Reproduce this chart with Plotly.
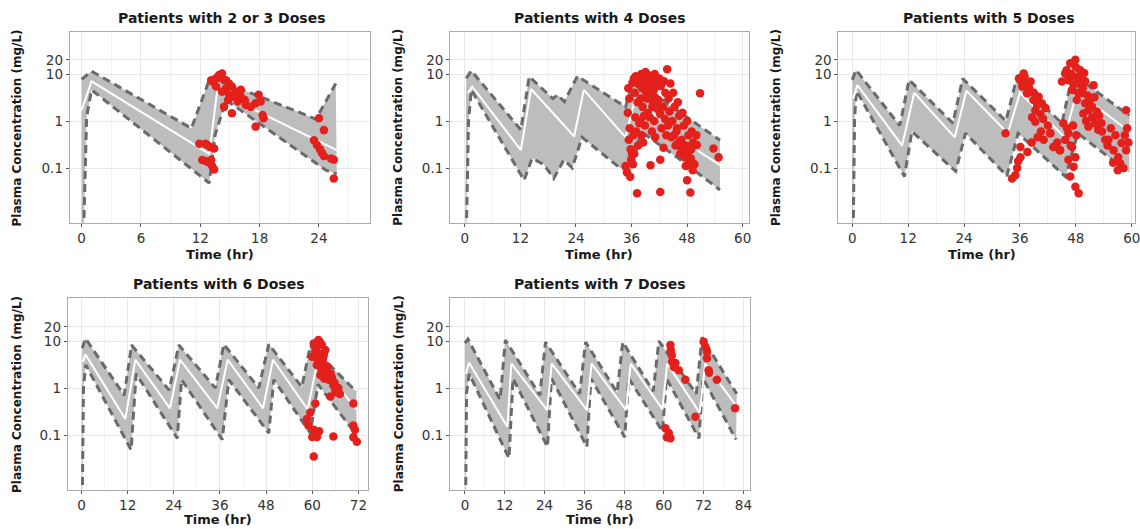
import plotly.graph_objects as go

# ---------------- data ----------------
panel_titles = ["Patients with 2 or 3 Doses", "Patients with 4 Doses", "Patients with 5 Doses",
                "Patients with 6 Doses", "Patients with 7 Doses"]
x_ticks = [[0, 6, 12, 18, 24], [0, 12, 24, 36, 48, 60], [0, 12, 24, 36, 48, 60],
           [0, 12, 24, 36, 48, 60, 72], [0, 12, 24, 36, 48, 60, 72, 84]]
y_ticks = [0.1, 1, 10, 20]
y_tick_text = ["0.1", "1", "10", "20"]

# Panel 1 : 2 or 3 doses
p1_up_t = [0.0, 1.0, 11.1, 12.8, 13.8, 23.7, 25.7]
p1_up_c = [7.7, 11.5, 0.7, 6.5, 7.5, 1.1, 6.3]
p1_md_t = [0.0, 1.0, 12.9, 13.7, 25.8]
p1_md_c = [1.7, 7.0, 0.2, 4.2, 0.24]
p1_lo_t = [0.0, 0.5, 1.0, 12.9, 13.5, 14.6, 24.7, 25.8]
p1_lo_c = [0.0001, 1.2, 4.6, 0.048, 0.5, 2.8, 0.09, 0.075]
p1_obs_t = [11.9, 12.5, 12.7, 13.0, 13.4, 12.2, 12.6, 13.1, 12.9, 13.2, 13.4,
            13.1, 13.3, 13.6, 13.9, 14.2, 14.0, 14.4, 14.6, 14.9, 15.2,
            14.6, 14.2, 15.6, 16.1, 14.9, 15.4, 16.1, 16.6, 17.1, 17.6,
            17.9, 18.1, 18.3, 18.4, 17.6, 15.2, 14.4, 13.6, 15.8, 16.5, 14.8,
            24.0, 24.5, 23.5, 23.8, 24.3, 24.5, 25.2, 25.5, 25.5, 24.1]
p1_obs_c = [0.33, 0.33, 0.31, 0.28, 0.26, 0.148, 0.14, 0.148, 0.13, 0.11, 0.093,
            7.4, 6.8, 8.1, 9.5, 10.3, 8.5, 7.5, 7.4, 6.3, 5.4,
            5.0, 4.2, 4.2, 4.6, 3.6, 3.3, 3.3, 2.2, 2.0, 2.4,
            3.6, 2.6, 1.34, 1.14, 0.76, 1.46, 2.0, 5.4, 2.6, 2.8, 2.8,
            1.14, 0.64, 0.39, 0.31, 0.21, 0.18, 0.16, 0.15, 0.06, 0.25]

# Panel 2 : 4 doses
p2_up_t = [0.3, 1.4, 12.1, 13.9, 19.0, 20.0, 21.5, 24.3, 34.7, 36.5, 45.8, 55.1]
p2_up_c = [8.1, 11.7, 0.65, 8.8, 3.0, 3.6, 2.6, 9.0, 2.0, 8.0, 1.7, 0.39]
p2_md_t = [0.6, 1.6, 12.1, 14.3, 23.6, 25.7, 34.7, 36.8, 50.1, 55.1]
p2_md_c = [3.9, 5.4, 0.24, 4.8, 0.47, 4.6, 0.45, 3.0, 0.24, 0.115]
p2_lo_t = [0.0, 0.8, 1.4, 12.8, 14.5, 17.0, 19.2, 21.4, 23.2, 25.3, 33.5, 36.0, 38.0, 45.8, 55.1]
p2_lo_c = [0.0001, 1.0, 4.6, 0.055, 0.16, 0.12, 0.06, 0.15, 0.1, 0.45, 0.1, 0.09, 0.6, 0.17, 0.034]
p2_obs_t = [34.7, 35.0, 35.7, 35.3, 35.5, 35.2, 35.6, 35.4, 35.8, 35.9,
            36.9, 37.1, 36.7, 37.3, 36.8, 37.0, 37.4, 36.6, 37.2,
            38.1, 37.8, 38.3, 38.0, 38.4, 37.9, 38.2, 38.5,
            39.0, 39.3, 38.8, 39.2, 39.5, 38.9,
            40.0, 40.3, 39.8, 40.2, 40.5, 39.9, 40.4, 40.1,
            41.0, 41.3, 40.8, 41.2, 41.5, 40.9, 41.1,
            42.0, 42.3, 41.8, 42.2, 42.5, 42.2, 42.2,
            43.0, 43.3, 42.8, 43.2, 43.5, 42.9,
            43.7, 44.4, 44.0, 44.2, 43.9,
            45.0, 45.3, 44.8, 45.2, 45.5,
            46.0, 46.3, 45.8, 46.2, 46.5,
            47.0, 47.3, 46.8, 47.2, 47.7,
            48.0, 48.3, 47.8, 48.2, 48.5, 48.0, 48.7,
            49.0, 49.3, 48.8, 49.2,
            50.1, 50.0, 50.8, 53.7, 54.8,
            36.2, 36.5, 37.6, 38.6, 39.6, 40.7, 41.6, 42.6, 39.4, 40.6, 41.7,
            38.7, 37.7, 36.4, 36.3, 36.1, 44.6, 45.7, 46.7, 47.5, 48.9, 49.6]
p2_obs_c = [0.11, 0.08, 0.065, 5.0, 3.0, 1.5, 0.7, 0.4, 0.25, 0.15,
            9.0, 7.0, 4.0, 2.5, 1.2, 0.6, 0.3, 0.2, 0.029,
            10.0, 8.0, 5.0, 3.0, 2.0, 1.0, 0.5, 0.35,
            11.0, 8.5, 6.0, 4.0, 1.5, 0.8,
            9.0, 7.0, 5.0, 3.5, 2.0, 1.2, 0.6, 0.115,
            10.0, 6.0, 4.5, 3.0, 2.2, 1.0, 0.45,
            8.0, 5.5, 2.8, 1.4, 0.7, 0.15, 0.031,
            7.0, 4.0, 2.0, 1.1, 0.5, 0.27,
            12.6, 6.3, 3.0, 1.6, 0.8,
            4.0, 2.0, 1.0, 0.5, 0.3,
            2.5, 1.3, 0.7, 0.35, 0.2,
            1.5, 0.8, 0.4, 0.25, 0.11,
            1.0, 0.5, 0.3, 0.2, 0.13, 0.055, 0.03,
            0.6, 0.35, 0.16, 0.09,
            0.31, 0.5, 3.9, 0.26, 0.17,
            6.5, 8.0, 6.0, 7.0, 9.5, 8.0, 7.5, 6.5, 3.0, 2.6, 1.8,
            1.3, 0.9, 0.5, 0.12, 0.2, 0.45, 0.6, 0.28, 0.17, 0.25, 0.12]

# Panel 3 : 5 doses
p3_up_t = [0.0, 0.8, 10.2, 12.2, 21.6, 23.7, 33.0, 35.2, 45.0, 47.3, 59.5]
p3_up_c = [7.5, 12.2, 0.8, 7.5, 0.9, 8.0, 1.0, 7.5, 0.9, 10.0, 1.3]
p3_md_t = [0.2, 1.1, 10.7, 13.3, 22.0, 24.5, 33.4, 36.0, 45.6, 48.2, 59.5]
p3_md_c = [3.0, 5.8, 0.3, 4.0, 0.45, 4.4, 0.55, 4.0, 0.45, 4.2, 0.6]
p3_lo_t = [0.0, 0.5, 0.9, 11.2, 12.8, 22.2, 24.3, 33.2, 35.6, 45.8, 48.4, 59.5]
p3_lo_c = [0.0001, 1.2, 4.4, 0.066, 0.6, 0.085, 0.55, 0.068, 0.55, 0.065, 0.55, 0.078]
p3_obs_t = [32.9, 35.8, 37.0, 38.3, 36.5, 37.5, 38.9, 40.0, 40.7, 39.3, 38.6, 40.4, 41.5, 41.1,
            39.3, 36.1, 36.1, 35.4, 35.0, 34.3, 36.8, 37.9,
            36.3, 37.3, 38.0, 39.0, 39.7, 41.0, 42.0, 42.5, 43.2, 44.6, 40.5, 39.8, 38.5, 37.6,
            35.6, 44.0,
            47.9, 46.8, 45.7, 45.0, 46.4, 47.9, 48.6, 47.2, 49.3, 48.2, 50.0, 50.7, 49.6, 51.5,
            52.1, 52.8, 50.7, 48.9, 51.8, 46.4, 45.7, 47.2, 47.9, 47.5, 46.8, 47.9, 48.6, 43.2,
            42.5, 44.6, 46.4, 55.0, 56.1, 57.1, 57.8, 58.5, 58.8, 57.5, 58.2, 58.8, 53.6, 54.3,
            46.0, 47.0, 48.0, 49.0, 50.0, 49.5, 48.5, 50.5, 51.0, 51.5, 52.5, 53.0, 52.0, 47.5,
            46.5, 49.8, 50.2, 53.5, 55.5, 56.5, 54.8, 56.0, 57.0, 59.0, 59.3, 45.3, 46.1, 46.9,
            48.1, 47.4]
p3_obs_c = [0.55, 8.1, 8.8, 6.9, 5.4, 3.9, 2.8, 3.3, 2.4, 1.7, 1.2, 1.4, 1.9, 0.4,
            0.97, 0.28, 0.17, 0.1, 0.07, 0.06, 10.3, 4.8,
            7.0, 6.0, 5.0, 4.0, 2.2, 1.1, 0.8, 0.55, 0.28, 0.24, 0.6, 0.45, 0.35, 0.22,
            0.14, 0.35,
            20.0, 17.0, 10.3, 6.9, 7.4, 8.8, 6.3, 4.6, 3.9, 2.8, 2.4, 1.7, 1.45, 1.2,
            0.9, 0.65, 0.76, 12.2, 5.8, 0.55, 0.4, 0.28, 0.17, 0.107, 0.066, 0.04, 0.029, 0.28,
            0.55, 0.24, 0.15, 0.4, 0.24, 0.17, 0.34, 0.5, 1.7, 0.126, 0.1, 0.24, 0.6, 0.4,
            12.0, 10.0, 14.0, 9.0, 7.0, 5.0, 4.0, 3.5, 2.8, 2.0, 1.6, 1.3, 3.2, 6.0,
            9.0, 10.5, 1.0, 0.9, 0.7, 0.5, 0.3, 0.13, 0.09, 0.7, 0.35, 0.9, 0.7, 0.3,
            0.5, 0.8]

# Panel 4 : 6 doses
p4_up_t = [0.2, 1.0, 11.1, 13.0, 22.8, 25.3, 34.8, 37.0, 46.1, 48.7, 57.3, 59.5, 71.5]
p4_up_c = [7.0, 11.4, 0.7, 8.2, 0.9, 8.2, 1.0, 8.5, 1.0, 8.5, 1.05, 8.0, 0.83]
p4_md_t = [0.4, 1.0, 11.4, 14.0, 23.0, 25.6, 35.3, 38.0, 47.2, 49.8, 58.8, 61.4, 71.5]
p4_md_c = [3.6, 5.2, 0.22, 4.0, 0.37, 4.0, 0.37, 4.0, 0.37, 4.0, 0.35, 3.8, 0.35]
p4_lo_t = [0.0, 0.5, 1.1, 12.9, 14.2, 24.9, 26.0, 36.6, 38.3, 48.7, 50.0, 59.5, 61.5, 71.5]
p4_lo_c = [0.0001, 1.0, 3.1, 0.048, 2.0, 0.085, 1.5, 0.08, 1.5, 0.11, 1.5, 0.11, 1.2, 0.1]
p4_obs_t = [60.4, 61.2, 60.8, 61.6, 60.0, 61.5, 62.4, 61.2, 62.3, 63.8, 65.1, 64.3, 65.5, 66.0,
            64.7, 63.4, 62.5, 61.6, 60.8, 58.6, 59.0, 60.4, 61.2, 60.0, 60.4, 65.5, 70.7, 70.7,
            71.1, 70.7, 71.6, 66.4,
            62.0, 63.0, 62.8, 63.5, 64.0, 64.8, 65.8, 66.8, 67.2, 61.0, 62.1, 63.1, 59.5, 61.8]
p4_obs_c = [8.9, 7.6, 5.9, 5.5, 4.6, 4.0, 3.7, 3.1, 2.6, 2.2, 1.7, 1.5, 1.15, 0.9,
            0.66, 6.4, 8.3, 10.5, 0.47, 0.22, 0.16, 0.13, 0.091, 0.091, 0.035, 0.093, 0.47, 0.16,
            0.13, 0.09, 0.072, 0.8,
            9.5, 5.0, 4.2, 3.0, 2.8, 2.0, 1.3, 1.0, 0.75, 6.8, 1.9, 1.6, 0.3, 0.12]

# Panel 5 : 7 doses
p5_up_t = [0.0, 0.9, 10.6, 12.2, 22.6, 24.3, 34.6, 36.4, 45.9, 47.6, 56.8, 58.5, 69.8, 71.5, 82.0]
p5_up_c = [9.0, 11.0, 0.56, 10.5, 0.7, 9.5, 0.75, 9.5, 0.8, 9.5, 0.85, 10.0, 0.75, 12.0, 0.75]
p5_md_t = [0.3, 1.2, 12.8, 14.0, 24.8, 26.2, 36.8, 38.2, 48.6, 50.0, 59.6, 61.0, 70.8, 72.5, 82.0]
p5_md_c = [2.0, 3.5, 0.15, 3.3, 0.34, 3.3, 0.34, 3.3, 0.34, 3.3, 0.35, 3.3, 0.3, 3.3, 0.4]
p5_lo_t = [0.0, 0.5, 1.3, 13.3, 14.5, 24.9, 26.1, 36.8, 38.0, 48.2, 49.4, 59.6, 60.8, 70.6, 71.8, 81.8]
p5_lo_c = [0.0001, 0.8, 2.0, 0.032, 1.6, 0.056, 1.6, 0.056, 1.6, 0.09, 1.6, 0.12, 1.6, 0.085, 1.6, 0.08]
p5_obs_t = [62.0, 62.1, 62.4, 62.5, 63.5, 63.0, 64.5, 66.5, 60.5, 61.5, 62.0, 60.9, 69.5,
            72.0, 72.5, 73.0, 73.0, 73.5, 73.7, 76.0, 81.5]
p5_obs_c = [8.2, 6.4, 5.0, 3.6, 3.4, 2.8, 2.4, 1.5, 0.14, 0.11, 0.085, 0.09, 0.245,
            9.7, 7.6, 5.9, 4.3, 2.4, 2.1, 1.5, 0.37]

panels = [
    (p1_up_t, p1_up_c, p1_md_t, p1_md_c, p1_lo_t, p1_lo_c, p1_obs_t, p1_obs_c),
    (p2_up_t, p2_up_c, p2_md_t, p2_md_c, p2_lo_t, p2_lo_c, p2_obs_t, p2_obs_c),
    (p3_up_t, p3_up_c, p3_md_t, p3_md_c, p3_lo_t, p3_lo_c, p3_obs_t, p3_obs_c),
    (p4_up_t, p4_up_c, p4_md_t, p4_md_c, p4_lo_t, p4_lo_c, p4_obs_t, p4_obs_c),
    (p5_up_t, p5_up_c, p5_md_t, p5_md_c, p5_lo_t, p5_lo_c, p5_obs_t, p5_obs_c),
]

# ---------------- layout geometry (pixels) ----------------
W, H = 1140, 529
boxes = [(70, 372, 32, 223), (452, 752, 32, 223), (842, 1140, 32, 223),
         (68, 370, 298, 490), (452, 753, 298, 490)]
x_ranges = [[-1.21, 29.2], [-3.2, 61.3], [-3.0, 60.7], [-3.6, 74.6], [-4.5, 85.9]]
y_ranges = [[-2.17, 1.894], [-2.17, 1.894], [-2.17, 1.894], [-2.17, 1.915], [-2.17, 1.915]]
ytitle_x = [18, 400, 780, 17, 401]
title_cx = [222, 602, 993, 219, 602]
xtitle_y = [255, 255, 255, 519, 519]
title_y = [18, 18, 18, 284, 284]

FONT = "DejaVu Sans"
fig = go.Figure()
layout = dict(width=W, height=H, margin=dict(l=0, r=0, t=0, b=0),
              paper_bgcolor="white", plot_bgcolor="white", showlegend=False,
              annotations=[])

for i, (ut, uc, mt, mc, lt, lc, ot, oc) in enumerate(panels):
    n = i + 1
    xa, ya = ("x" if n == 1 else f"x{n}"), ("y" if n == 1 else f"y{n}")
    # band
    fig.add_trace(go.Scatter(x=list(ut) + list(lt)[::-1], y=list(uc) + list(lc)[::-1],
                             fill="toself", fillcolor="#bdbdbd", mode="lines",
                             line=dict(width=0, color="#bdbdbd"), hoverinfo="skip",
                             xaxis=xa, yaxis=ya))
    for tt, cc in ((ut, uc), (lt, lc)):
        fig.add_trace(go.Scatter(x=tt, y=cc, mode="lines",
                                 line=dict(color="#6a6a6a", width=3, dash="8px,5px"),
                                 xaxis=xa, yaxis=ya))
    fig.add_trace(go.Scatter(x=mt, y=mc, mode="lines", line=dict(color="white", width=2),
                             xaxis=xa, yaxis=ya))
    fig.add_trace(go.Scatter(x=ot, y=oc, mode="markers",
                             marker=dict(color="#e3201b", size=8.5, line=dict(width=0)),
                             xaxis=xa, yaxis=ya))

    x0, x1, y0, y1 = boxes[i]
    xt = x_ticks[i]
    step = xt[1] - xt[0]
    minor_vals = [v + step / 2 for v in xt] + [xt[0] - step / 2]
    axis_common = dict(showline=True, mirror=True, linecolor="#ababab", linewidth=1,
                       showgrid=True, gridcolor="#e8e8e8", gridwidth=1, zeroline=False,
                       ticks="outside", ticklen=3, tickcolor="#555555",
                       tickfont=dict(family=FONT, size=13.5, color="#333333"))
    layout["xaxis" if n == 1 else f"xaxis{n}"] = dict(
        axis_common, domain=[x0 / W, x1 / W], range=x_ranges[i], anchor=ya,
        tickmode="array", tickvals=xt, ticklabeloverflow="allow",
        minor=dict(tickvals=minor_vals, showgrid=True, gridcolor="#f2f2f2", ticks=""))
    layout["yaxis" if n == 1 else f"yaxis{n}"] = dict(
        axis_common, domain=[1 - y1 / H, 1 - y0 / H], type="log", range=y_ranges[i],
        anchor=xa, tickmode="array", tickvals=y_ticks, ticktext=y_tick_text)

    layout["annotations"].append(dict(
        text=panel_titles[i], x=title_cx[i] / W, y=1 - title_y[i] / H,
        xref="paper", yref="paper", showarrow=False, xanchor="center", yanchor="middle",
        font=dict(family=FONT, size=14, color="#1a1a1a", weight="bold")))
    layout["annotations"].append(dict(
        text="Time (hr)", x=((x0 + min(x1, 1130)) / 2) / W, y=1 - xtitle_y[i] / H,
        xref="paper", yref="paper", showarrow=False, xanchor="center", yanchor="middle",
        font=dict(family=FONT, size=13, color="#1a1a1a", weight="bold")))
    layout["annotations"].append(dict(
        text="Plasma Concentration (mg/L)", x=ytitle_x[i] / W, y=1 - ((y0 + y1) / 2) / H,
        xref="paper", yref="paper", showarrow=False, textangle=-90,
        xanchor="center", yanchor="middle",
        font=dict(family=FONT, size=12, color="#1a1a1a", weight="bold")))

fig.update_layout(**layout)
fig.write_html("out.html", config={"displayModeBar": False},
               post_script="document.body.style.margin='0px';document.body.style.overflow='hidden';")
